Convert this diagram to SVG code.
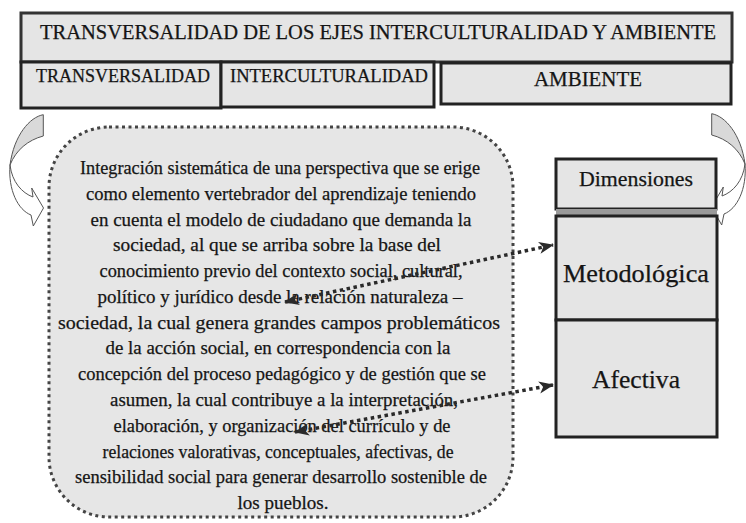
<svg xmlns="http://www.w3.org/2000/svg" width="746" height="523" viewBox="0 0 746 523">
<style>
  .box{fill:#e5e5e5;stroke:#222;stroke-width:3}
  .t{fill:#151515;text-anchor:middle;stroke:#151515;stroke-width:0.25}
  .dot{fill:none;stroke:#2a2a2a;stroke-width:3.5;stroke-dasharray:3.5 3.5}
  .carrow-top{fill:#d9d9d9;stroke:#555;stroke-width:1}
  .carrow-low{fill:#fff;stroke:#555;stroke-width:1}
</style>
<defs>
  <marker id="ah" markerUnits="userSpaceOnUse" markerWidth="16" markerHeight="14" refX="14" refY="7" orient="auto-start-reverse" viewBox="0 0 16 14">
    <path d="M0,1 L15,7 L0,13 L4,7 Z" fill="#2a2a2a"/>
  </marker>
</defs>
<rect width="746" height="523" fill="#fff"/>
<g font-family="'Liberation Serif', 'Times New Roman', serif">
<g id="header">
  <rect class="box" x="21" y="13" width="711" height="49" style="stroke:#333"/>
  <text class="t" x="378" y="39" font-size="20" textLength="676" lengthAdjust="spacingAndGlyphs">TRANSVERSALIDAD DE LOS EJES INTERCULTURALIDAD Y AMBIENTE</text>
</g>
<g id="transversalidad">
  <rect class="box" x="21" y="62" width="200" height="46"/>
  <text class="t" x="123" y="82" font-size="18" textLength="174" lengthAdjust="spacingAndGlyphs">TRANSVERSALIDAD</text>
</g>
<g id="interculturalidad">
  <rect class="box" x="221" y="62" width="213" height="45"/>
  <text class="t" x="329" y="82" font-size="18" textLength="198" lengthAdjust="spacingAndGlyphs">INTERCULTURALIDAD</text>
</g>
<g id="ambiente">
  <rect class="box" x="441" y="63" width="290" height="41"/>
  <text class="t" x="588" y="86" font-size="20" textLength="108" lengthAdjust="spacingAndGlyphs">AMBIENTE</text>
</g>

<g id="curved-left">
  <path class="carrow-top" d="M43.3,114.7 C30,117 14,135 10,165 C16,150 28,140 43.3,136 Z"/>
  <path class="carrow-low" d="M10,165 C8,190 18,210 31,215 L33.3,226 L43.5,208 L31.7,188 L33,197 C22,193 12,182 10,165 Z"/>
</g>
<g id="curved-right" transform="matrix(-1 0 0 1 755 -1)">
  <path class="carrow-top" d="M43.3,114.7 C30,117 14,135 10,165 C16,150 28,140 43.3,136 Z"/>
  <path class="carrow-low" d="M10,165 C8,190 18,210 31,215 L33.3,226 L43.5,208 L31.7,188 L33,197 C22,193 12,182 10,165 Z"/>
</g>

<g id="definicion">
  <rect x="49" y="127" width="464" height="390" rx="60" ry="60" fill="#e6e6e6" stroke="#444" stroke-width="3" stroke-dasharray="3 3.5"/>
  <g class="t" font-size="19">
    <text x="280" y="174" textLength="400" lengthAdjust="spacingAndGlyphs">Integración sistemática de una perspectiva que se erige</text>
    <text x="281" y="199.8" textLength="390" lengthAdjust="spacingAndGlyphs">como elemento vertebrador del aprendizaje teniendo</text>
    <text x="281" y="225.5" textLength="381" lengthAdjust="spacingAndGlyphs">en cuenta el modelo de ciudadano que demanda la</text>
    <text x="277" y="251.3" textLength="328" lengthAdjust="spacingAndGlyphs">sociedad, al que se arriba sobre la base del</text>
    <text x="281" y="277.1" textLength="363" lengthAdjust="spacingAndGlyphs">conocimiento previo del contexto social, cultural,</text>
    <text x="280" y="302.9" textLength="365" lengthAdjust="spacingAndGlyphs">político y jurídico desde la relación naturaleza –</text>
    <text x="279" y="328.6" textLength="442" lengthAdjust="spacingAndGlyphs">sociedad, la cual genera grandes campos problemáticos</text>
    <text x="278" y="354.4" textLength="345" lengthAdjust="spacingAndGlyphs">de la acción social, en correspondencia con la</text>
    <text x="282" y="380.2" textLength="408" lengthAdjust="spacingAndGlyphs">concepción del proceso pedagógico y de gestión que se</text>
    <text x="284" y="405.9" textLength="348" lengthAdjust="spacingAndGlyphs">asumen, la cual contribuye a la interpretación,</text>
    <text x="282" y="431.7" textLength="337" lengthAdjust="spacingAndGlyphs">elaboración, y organización del currículo y de</text>
    <text x="278" y="457.5" textLength="351" lengthAdjust="spacingAndGlyphs">relaciones valorativas, conceptuales, afectivas, de</text>
    <text x="281" y="483.2" textLength="412" lengthAdjust="spacingAndGlyphs">sensibilidad social para generar desarrollo sostenible de</text>
    <text x="283" y="509" textLength="91" lengthAdjust="spacingAndGlyphs">los pueblos.</text>
  </g>
</g>

<g id="dimensiones">
  <rect class="box" x="556" y="159" width="160" height="50"/>
  <text class="t" x="636" y="186" font-size="21" textLength="114" lengthAdjust="spacingAndGlyphs">Dimensiones</text>
</g>
<rect x="556" y="209" width="161" height="7" fill="#9a9a9a"/>
<g id="metodologica">
  <rect class="box" x="556" y="216" width="161" height="104"/>
  <text class="t" x="636" y="282" font-size="26" textLength="146" lengthAdjust="spacingAndGlyphs">Metodológica</text>
</g>
<g id="afectiva">
  <rect class="box" x="556" y="320" width="161" height="117"/>
  <text class="t" x="636" y="388" font-size="25" textLength="88" lengthAdjust="spacingAndGlyphs">Afectiva</text>
</g>
</g>
<g id="connectors">
  <line class="dot" x1="285" y1="302" x2="553" y2="245" marker-start="url(#ah)" marker-end="url(#ah)"/>
  <line class="dot" x1="295" y1="432" x2="553" y2="385" marker-start="url(#ah)" marker-end="url(#ah)"/>
</g>
</svg>
